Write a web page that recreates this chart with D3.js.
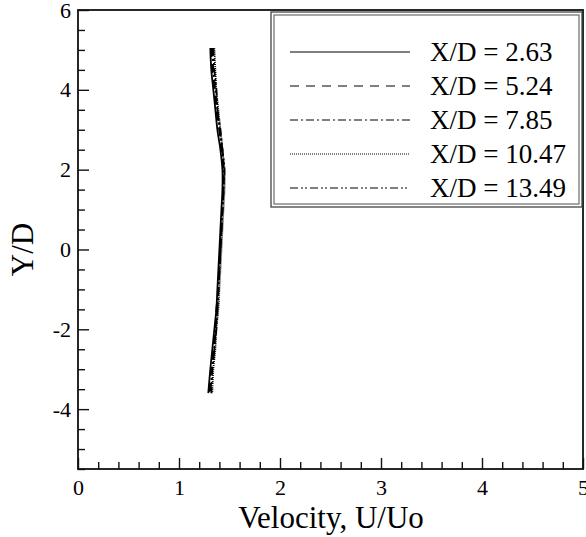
<!DOCTYPE html>
<html>
<head>
<meta charset="utf-8">
<script src="https://cdn.jsdelivr.net/npm/d3@7"></script>
<style>
  body { margin: 0; background: #fff; }
  svg text { font-family: "Liberation Serif", "Times New Roman", serif; fill: #000; }
</style>
</head>
<body>
<script>
// profile heights (Y/D)
var yPts = [5.05, 4.5, 4.0, 3.5, 3.0, 2.5, 2.0, 1.5, 1.0, 0.5, 0, -0.5, -1.0, -1.5, -2.0, -2.5, -3.0, -3.6];

// U/Uo for each station
var u263  = [1.31, 1.32, 1.34, 1.36, 1.38, 1.41, 1.43, 1.43, 1.42, 1.41, 1.40, 1.39, 1.38, 1.37, 1.35, 1.33, 1.31, 1.29];
var u524  = [1.32, 1.33, 1.35, 1.37, 1.40, 1.42, 1.44, 1.44, 1.43, 1.42, 1.41, 1.40, 1.39, 1.37, 1.36, 1.34, 1.32, 1.30];
var u785  = [1.33, 1.34, 1.36, 1.38, 1.40, 1.43, 1.44, 1.44, 1.43, 1.42, 1.41, 1.40, 1.39, 1.38, 1.36, 1.35, 1.33, 1.31];
var u1047 = [1.35, 1.36, 1.37, 1.39, 1.41, 1.43, 1.45, 1.45, 1.44, 1.43, 1.42, 1.41, 1.40, 1.39, 1.37, 1.36, 1.34, 1.33];
var u1349 = [1.34, 1.35, 1.37, 1.38, 1.41, 1.43, 1.45, 1.44, 1.43, 1.42, 1.41, 1.40, 1.39, 1.38, 1.37, 1.35, 1.33, 1.32];

var seriesNames = ["X/D = 2.63", "X/D = 5.24", "X/D = 7.85", "X/D = 10.47", "X/D = 13.49"];
var seriesVals = [u263, u524, u785, u1047, u1349];
var dashes = [null, "9,7", "8,3,2,3", "1,1", "8,3,2,2,2,3"];

var xTicks = [0, 1, 2, 3, 4, 5];
var yTicks = [-4, -2, 0, 2, 4, 6];

var W = 586, H = 537;
var margin = {top: 10, right: 3, bottom: 68, left: 78};
var width = W - margin.left - margin.right;
var height = H - margin.top - margin.bottom;
var serif = "'Liberation Serif', 'Times New Roman', serif";

var svg = d3.select("body").append("svg")
    .attr("width", W)
    .attr("height", H);

var g = svg.append("g")
    .attr("transform", "translate(" + margin.left + "," + margin.top + ")");

var xScale = d3.scaleLinear().domain([0, 5]).range([0, width]);
var yScale = d3.scaleLinear().domain([-5.5, 6]).range([height, 0]);

// minor ticks
var xMinor = d3.range(0, 5.001, 0.2).filter(function(v){ return Math.abs(v - Math.round(v)) > 0.01; });
var yMinor = d3.range(-5.5, 6.001, 0.5).filter(function(v){ return Math.abs(v / 2 - Math.round(v / 2)) > 0.01; });

g.append("g")
    .attr("transform", "translate(0," + height + ")")
    .call(d3.axisBottom(xScale).tickValues(xMinor).tickSize(-7).tickFormat(""));
g.append("g")
    .call(d3.axisLeft(yScale).tickValues(yMinor).tickSize(-7).tickFormat(""));

var plainFmt = function(d){ return String(d); };
var xAxis = g.append("g")
    .attr("transform", "translate(0," + height + ")")
    .call(d3.axisBottom(xScale).tickValues(xTicks).tickSize(-11).tickPadding(10).tickFormat(plainFmt));
var yAxis = g.append("g")
    .call(d3.axisLeft(yScale).tickValues(yTicks).tickSize(-11).tickPadding(7).tickFormat(plainFmt));

g.selectAll(".domain").remove();
g.selectAll(".tick line").attr("stroke", "#111").attr("stroke-width", 1.4);
g.selectAll(".tick text")
    .attr("font-family", serif)
    .style("font-family", serif)
    .style("font-size", "22px");

// frame
g.append("rect")
    .attr("x", 0).attr("y", 0)
    .attr("width", width).attr("height", height)
    .attr("fill", "none")
    .attr("stroke", "#111")
    .attr("stroke-width", 1.8);

// curves
var line = d3.line()
    .x(function(d){ return xScale(d[0]); })
    .y(function(d){ return yScale(d[1]); })
    .curve(d3.curveCatmullRom);

seriesVals.forEach(function(vals, i){
  var pts = vals.map(function(v, j){ return [v, yPts[j]]; });
  g.append("path")
      .datum(pts)
      .attr("fill", "none")
      .attr("stroke", "#000")
      .attr("stroke-width", 1.8)
      .attr("stroke-dasharray", dashes[i])
      .attr("d", line);
});

// legend (double border)
var lg = svg.append("g");
lg.append("rect")
    .attr("x", 271).attr("y", 12)
    .attr("width", 311).attr("height", 195)
    .attr("fill", "#fff")
    .attr("stroke", "#444")
    .attr("stroke-width", 1.3);
lg.append("rect")
    .attr("x", 274).attr("y", 15)
    .attr("width", 305).attr("height", 189)
    .attr("fill", "none")
    .attr("stroke", "#777")
    .attr("stroke-width", 1.3);

seriesNames.forEach(function(name, i){
  var yy = 52 + i * 34;
  lg.append("line")
      .attr("x1", 290).attr("x2", 410)
      .attr("y1", yy).attr("y2", yy)
      .attr("stroke", "#000")
      .attr("stroke-width", 1.2)
      .attr("stroke-dasharray", dashes[i]);
  lg.append("text")
      .attr("x", 430).attr("y", yy + 9)
      .style("font-family", serif)
      .style("font-size", "27px")
      .text(name);
});

// axis titles
svg.append("text")
    .attr("x", 331)
    .attr("y", 528)
    .attr("text-anchor", "middle")
    .style("font-family", serif)
    .style("font-size", "31px")
    .text("Velocity, U/Uo");

svg.append("text")
    .attr("transform", "translate(33," + (margin.top + yScale(0)) + ") rotate(-90)")
    .attr("text-anchor", "middle")
    .style("font-family", serif)
    .style("font-size", "31px")
    .text("Y/D");
</script>
</body>
</html>
